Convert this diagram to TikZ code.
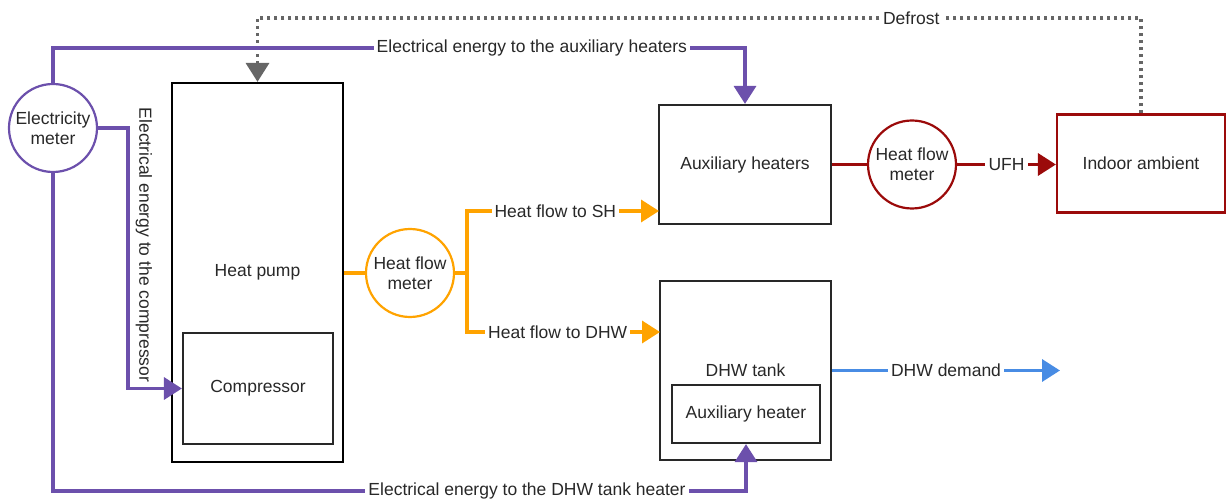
\documentclass[tikz,border=0pt]{standalone}
\usepackage{fontspec}
\setmainfont{Liberation Sans}
\usetikzlibrary{arrows.meta}
\definecolor{cpur}{RGB}{108,80,172}
\definecolor{corg}{RGB}{255,163,0}
\definecolor{cred}{RGB}{155,10,10}
\definecolor{cblu}{RGB}{72,140,228}
\definecolor{cgry}{RGB}{102,102,102}
\definecolor{ctxt}{RGB}{40,40,40}
\tikzset{
  every node/.style={font=\fontsize{17.5}{20}\selectfont, text=ctxt},
  box/.style={draw=ctxt, line width=2.2pt, fill=white, inner sep=0pt},
  circ/.style={circle, line width=2.2pt, fill=white, minimum size=88pt, inner sep=0pt, align=center},
  lbl/.style={fill=white, inner xsep=3pt, inner ysep=2pt},
  flow/.style={line width=3.5pt},
  tip/.style={-{Triangle[length=18pt,width=22pt]}},
}
\begin{document}
\begin{tikzpicture}[x=1pt,y=-1pt]
\useasboundingbox (0,0) rectangle (1226,502);
% boxes
\node[box, draw=black, minimum width=171pt, minimum height=379pt] (hp) at (257.5,272.5) {Heat pump};
\node[box, minimum width=150pt, minimum height=111pt] (comp) at (258,388.5) {Compressor};
\node[box, minimum width=172pt, minimum height=119pt] (aux) at (745,164.5) {Auxiliary heaters};
\node[box, draw=cred, minimum width=168pt, minimum height=98pt] (ia) at (1141,163.5) {Indoor ambient};
\node[box, minimum width=171pt, minimum height=179pt] (dhw) at (745.5,370.5) {DHW tank};
\node[box, minimum width=148pt, minimum height=58pt] (auxh) at (746,414) {Auxiliary heater};
% circles
\node[circ, draw=cpur] (em) at (53,128) {Electricity\\meter};
\node[circ, draw=corg] (hfo) at (410,273) {Heat flow\\meter};
\node[circ, draw=cred] (hfr) at (912,164.5) {Heat flow\\meter};
% coordinates
\coordinate (t1) at (53,48);
\coordinate (t2) at (745,48);
\coordinate (c1) at (128,128);
\coordinate (c2) at (128,388.5);
\coordinate (b1) at (53,491);
\coordinate (b2) at (746,491);
\coordinate (d1) at (1141,18);
\coordinate (d2) at (257.5,18);
\coordinate (o1) at (467,273);
\coordinate (o2) at (467,211);
\coordinate (o3) at (659,211);
\coordinate (o4) at (467,332);
\coordinate (o5) at (660,332);
\coordinate (w1) at (1060,370.5);
% defrost
\draw[cgry, line width=3.5pt, dash pattern=on 3pt off 4pt, -{Triangle[length=19pt,width=23pt]}]
  (ia.north) -- (d1) -- node[lbl, pos=0.26, inner ysep=1pt]{Defrost} (d2) -- (hp.north);
% purple
\draw[cpur, flow, tip] (em.north) -- (t1) -- node[lbl, pos=0.692]{Electrical energy to the auxiliary heaters} (t2) -- (aux.north);
\draw[cpur, flow, tip] (em.east) -- (c1) -- (c2) -- (comp.west);
\node[rotate=-90, anchor=center] (lc) at (144,245) {Electrical energy to the compressor};
\draw[cpur, flow, tip] (em.south) -- (b1) -- node[lbl, pos=0.684]{Electrical energy to the DHW tank heater} (b2) -- (auxh.south);
% orange
\draw[corg, flow] (hp.east |- hfo.west) -- (hfo.west);
\draw[corg, flow, tip] (hfo.east) -- (o1) -- (o2) -- node[lbl, pos=0.46]{Heat flow to SH} (o3);
\draw[corg, flow, tip] (o1) -- (o4) -- node[lbl, pos=0.47]{Heat flow to DHW} (o5);
% red
\draw[cred, flow] (aux.east) -- (hfr.west);
\draw[cred, flow, tip] (hfr.east) -- node[lbl, inner xsep=4pt]{UFH} (ia.west |- hfr.east);
% blue
\draw[cblu, flow, tip] (dhw.east) -- node[lbl]{DHW demand} (w1);
\end{tikzpicture}
\end{document}
